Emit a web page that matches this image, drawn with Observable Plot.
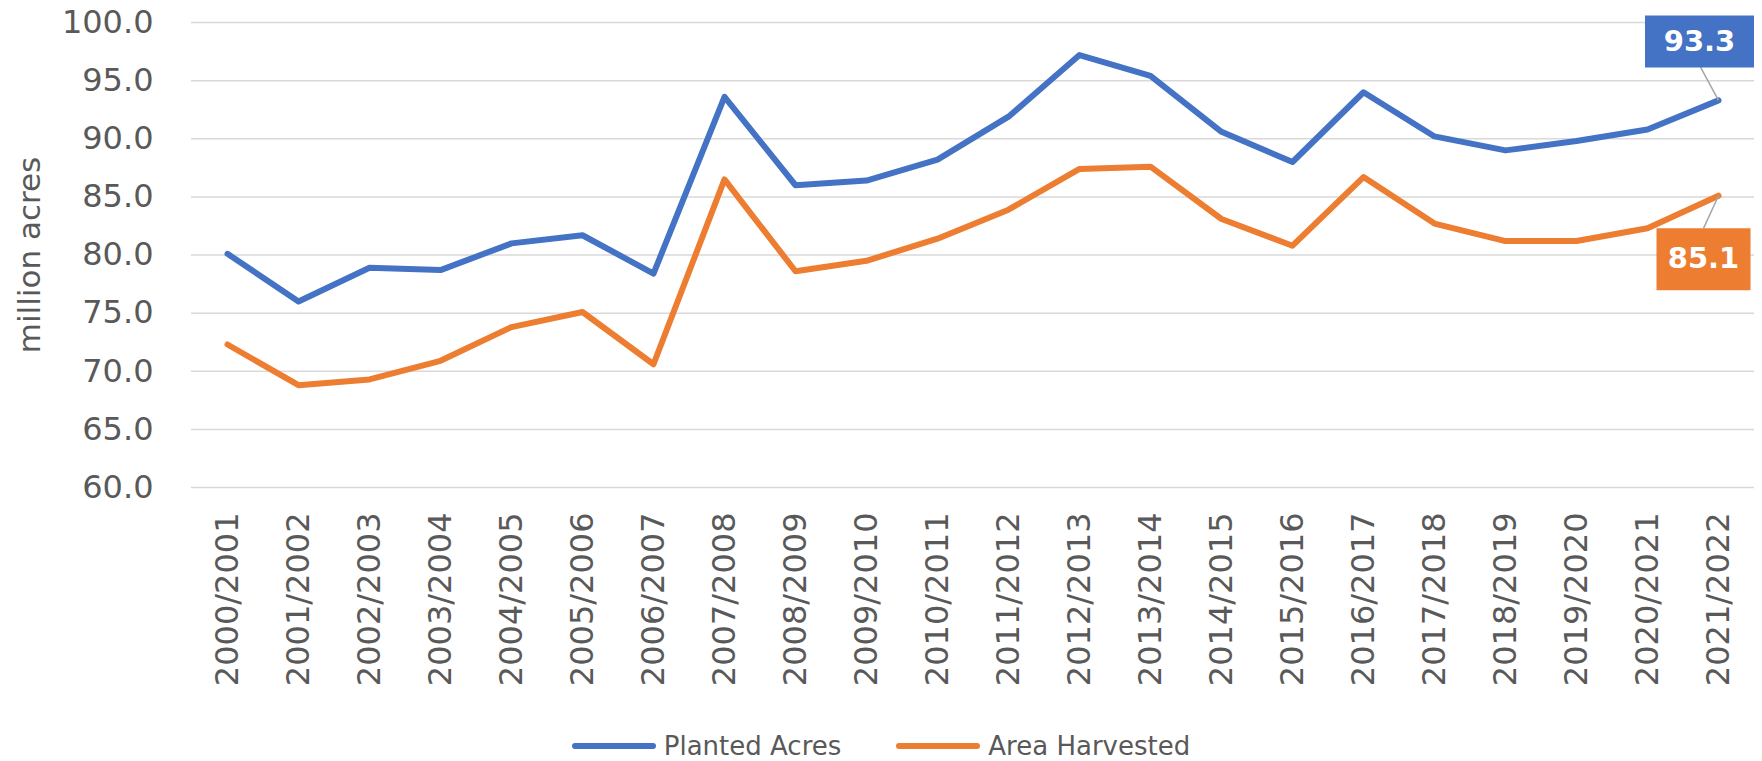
<!DOCTYPE html>
<html>
<head>
<meta charset="utf-8">
<script src="https://cdn.jsdelivr.net/npm/d3@7"></script>
<script src="https://cdn.jsdelivr.net/npm/@observablehq/plot@0.6"></script>
<style>
  html, body { margin: 0; padding: 0; background: #fff; overflow: hidden; }
  #chart svg { display: block; }
  #legend { display: flex; justify-content: center; align-items: center; height: 31px; gap: 55px;
            font-family: "DejaVu Sans", sans-serif; font-size: 26px; color: #595959; }
  #legend .item { display: flex; align-items: center; gap: 8px; }
  #legend .sw { width: 84px; height: 6px; border-radius: 3px; display: inline-block; }
</style>
</head>
<body>
<div id="chart"></div>
<div id="legend"></div>
<script>
const seasons = ["2000/2001","2001/2002","2002/2003","2003/2004","2004/2005","2005/2006","2006/2007","2007/2008","2008/2009","2009/2010","2010/2011","2011/2012","2012/2013","2013/2014","2014/2015","2015/2016","2016/2017","2017/2018","2018/2019","2019/2020","2020/2021","2021/2022"];
const planted = [80.1, 76.0, 78.9, 78.7, 81.0, 81.7, 78.4, 93.6, 86.0, 86.4, 88.2, 91.9, 97.2, 95.4, 90.6, 88.0, 94.0, 90.2, 89.0, 89.8, 90.8, 93.3];
const harvested = [72.3, 68.8, 69.3, 70.9, 73.8, 75.1, 70.6, 86.5, 78.6, 79.5, 81.4, 83.9, 87.4, 87.6, 83.1, 80.8, 86.7, 82.7, 81.2, 81.2, 82.3, 85.1];
const seriesNames = ["Planted Acres", "Area Harvested"];
const seriesColors = ["#4472c4", "#ed7d31"];
const yTicks = [60, 65, 70, 75, 80, 85, 90, 95, 100];
const yLabel = "million acres";

const rows = [];
[planted, harvested].forEach((vals, s) => {
  vals.forEach((v, i) => rows.push({season: seasons[i], value: v, series: seriesNames[s]}));
});
const last = seriesNames.map((name, s) => ({season: seasons[seasons.length - 1], value: [planted, harvested][s][seasons.length - 1], series: name}));

// annotation styling (callout boxes with leader lines)
const callout = [
  {w: 109, h: 52, dx: -19, dy: -59, lx: -18, ly: -33.3},
  {w: 94, h: 62, dx: -15, dy: 63.5, lx: -15, ly: 32.7}
];
const rectSymbol = (w, h) => ({draw(ctx) { ctx.rect(-w / 2, -h / 2, w, h); }});
const leaderSymbol = (lx, ly) => ({draw(ctx) { ctx.moveTo(0, 0); ctx.lineTo(lx, ly); }});

const calloutMarks = last.flatMap((d, s) => {
  const c = callout[s];
  return [
    Plot.dot([d], {x: "season", y: "value", symbol: leaderSymbol(c.lx, c.ly), r: 10, fill: "none", stroke: "#a5a5a5", strokeWidth: 1.5}),
    Plot.dot([d], {x: "season", y: "value", symbol: rectSymbol(c.w, c.h), r: 10, fill: seriesColors[s], stroke: "none", dx: c.dx, dy: c.dy}),
    Plot.text([d], {x: "season", y: "value", text: d => d.value.toFixed(1), fill: "white", fontWeight: "bold",
      fontSize: 29, fontFamily: "DejaVu Sans", dx: c.dx, dy: c.dy})
  ];
});

const chart = Plot.plot({
  width: 1762,
  height: 730,
  marginTop: 22,
  marginBottom: 243,
  marginLeft: 191,
  marginRight: 8,
  style: {fontFamily: "DejaVu Sans", fontSize: "32px", color: "#595959", background: "white"},
  x: {type: "point", domain: seasons, padding: 0.5, label: null},
  y: {domain: [60, 100], label: null},
  color: {domain: seriesNames, range: seriesColors},
  marks: [
    Plot.gridY(yTicks, {stroke: "#d9d9d9", strokeOpacity: 1, strokeWidth: 1.5}),
    Plot.axisY(yTicks, {tickSize: 0, tickPadding: 38, tickFormat: d => d.toFixed(1), fontSize: 32, fill: "#595959", label: null}),
    Plot.axisX({tickSize: 0, tickPadding: 25, tickRotate: -90, fontSize: 32, fill: "#595959", label: null}),
    Plot.text([yLabel], {frameAnchor: "left", dx: -161, rotate: -90, textAnchor: "middle", lineAnchor: "middle",
      fontSize: 31, fill: "#595959"}),
    Plot.line(rows, {x: "season", y: "value", stroke: "series", z: "series", strokeWidth: 6,
      strokeLinejoin: "round", strokeLinecap: "round"}),
    ...calloutMarks
  ]
});
document.getElementById("chart").appendChild(chart);

const legend = document.getElementById("legend");
seriesNames.forEach((name, i) => {
  const item = document.createElement("div");
  item.className = "item";
  const sw = document.createElement("span");
  sw.className = "sw";
  sw.style.background = seriesColors[i];
  const t = document.createElement("span");
  t.textContent = name;
  item.appendChild(sw);
  item.appendChild(t);
  legend.appendChild(item);
});
</script>
</body>
</html>
